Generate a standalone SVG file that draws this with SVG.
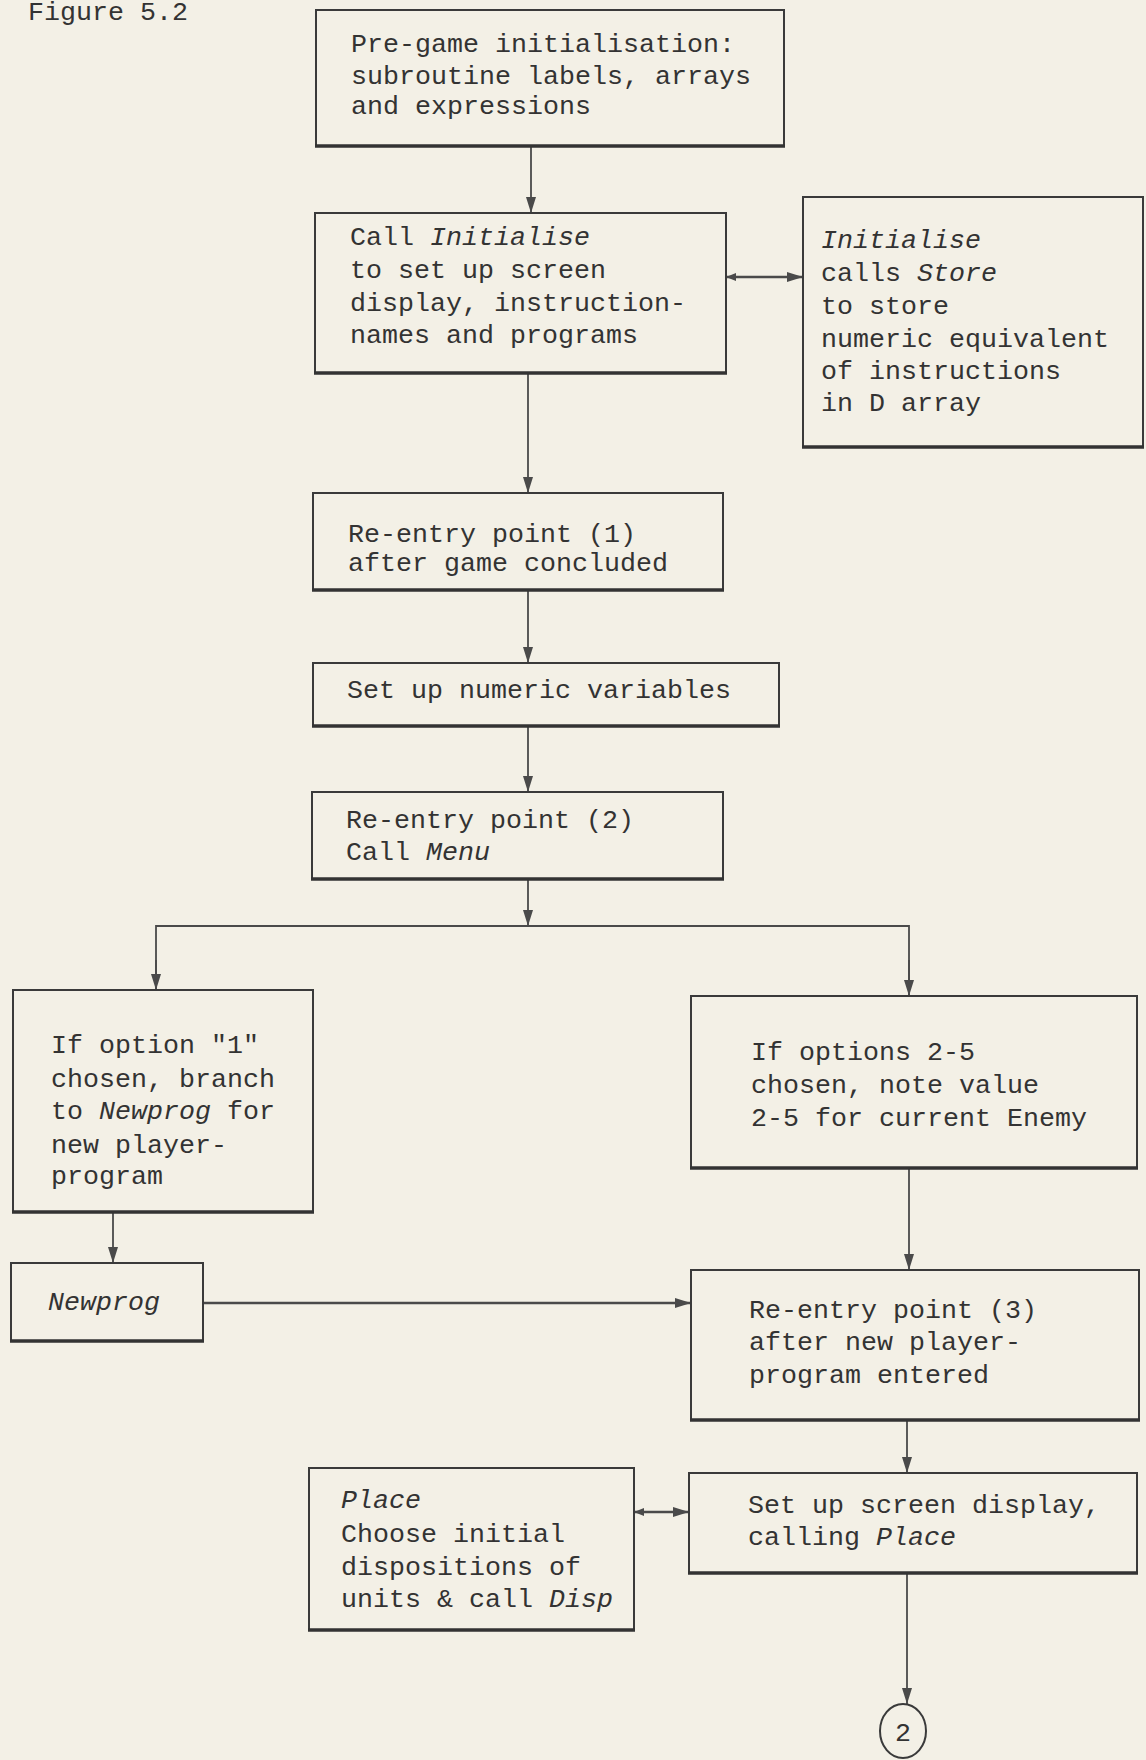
<svg xmlns="http://www.w3.org/2000/svg" width="1146" height="1760" viewBox="0 0 1146 1760">
<style>
.bg{fill:#f3f0e6}
.box{fill:none;stroke:#3a3a3a;stroke-width:2}
.bot{stroke:#333;stroke-width:3.5;fill:none}
.t{font-family:"Liberation Mono","DejaVu Sans Mono",monospace;font-size:26.67px;fill:#333}
.i{font-style:italic}
.c{stroke:#4a4a4a;stroke-width:1.8;fill:none}
</style>
<defs>
<marker id="ah" viewBox="0 0 16 10" refX="16" refY="5" markerWidth="16" markerHeight="10" markerUnits="userSpaceOnUse" orient="auto">
<path d="M0,0 L16,5 L0,10 Z" fill="#4a4a4a"/>
</marker>
<marker id="as" viewBox="0 0 10 8" refX="0" refY="4" markerWidth="10" markerHeight="8" markerUnits="userSpaceOnUse" orient="auto">
<path d="M10,0 L0,4 L10,8 Z" fill="#4a4a4a"/>
</marker>
</defs>
<rect class="bg" x="0" y="0" width="1146" height="1760"/>
<text class="t" x="28" y="20" fill="#555">Figure 5.2</text>

<g id="connectors">
<line class="c" x1="531" y1="146" x2="531" y2="213" marker-end="url(#ah)"/>
<line class="c" x1="726" y1="277" x2="803" y2="277" marker-start="url(#as)" marker-end="url(#ah)" style="stroke-width:2.5"/>
<line class="c" x1="528" y1="373" x2="528" y2="493" marker-end="url(#ah)"/>
<line class="c" x1="528" y1="590" x2="528" y2="663" marker-end="url(#ah)"/>
<line class="c" x1="528" y1="726" x2="528" y2="792" marker-end="url(#ah)"/>
<line class="c" x1="528" y1="879" x2="528" y2="926" marker-end="url(#ah)"/>
<polyline class="c" points="156,990 156,926 909,926 909,996"/>
<line class="c" x1="156" y1="960" x2="156" y2="990" marker-end="url(#ah)"/>
<line class="c" x1="909" y1="960" x2="909" y2="996" marker-end="url(#ah)"/>
<line class="c" x1="113" y1="1212" x2="113" y2="1263" marker-end="url(#ah)"/>
<line class="c" x1="909" y1="1168" x2="909" y2="1270" marker-end="url(#ah)"/>
<line class="c" x1="203" y1="1303" x2="691" y2="1303" marker-end="url(#ah)" style="stroke-width:2.3"/>
<line class="c" x1="907" y1="1420" x2="907" y2="1473" marker-end="url(#ah)"/>
<line class="c" x1="634" y1="1512" x2="689" y2="1512" marker-start="url(#as)" marker-end="url(#ah)" style="stroke-width:2.5"/>
<line class="c" x1="907" y1="1573" x2="907" y2="1704" marker-end="url(#ah)"/>
</g>

<g id="n1">
<rect class="box" x="316" y="10" width="468" height="136"/>
<line class="bot" x1="315" y1="146" x2="785" y2="146"/>
<text class="t" x="351" y="52">Pre-game initialisation:</text>
<text class="t" x="351" y="84">subroutine labels, arrays</text>
<text class="t" x="351" y="114">and expressions</text>
</g>

<g id="n2">
<rect class="box" x="315" y="213" width="411" height="160"/>
<line class="bot" x1="314" y1="373" x2="727" y2="373"/>
<text class="t" x="350" y="245">Call <tspan class="i">Initialise</tspan></text>
<text class="t" x="350" y="278">to set up screen</text>
<text class="t" x="350" y="311">display, instruction-</text>
<text class="t" x="350" y="343">names and programs</text>
</g>

<g id="n3">
<rect class="box" x="803" y="197" width="340" height="250"/>
<line class="bot" x1="802" y1="447" x2="1144" y2="447"/>
<text class="t i" x="821" y="248">Initialise</text>
<text class="t" x="821" y="281">calls <tspan class="i">Store</tspan></text>
<text class="t" x="821" y="314">to store</text>
<text class="t" x="821" y="347">numeric equivalent</text>
<text class="t" x="821" y="379">of instructions</text>
<text class="t" x="821" y="411">in D array</text>
</g>

<g id="n4">
<rect class="box" x="313" y="493" width="410" height="97"/>
<line class="bot" x1="312" y1="590" x2="724" y2="590"/>
<text class="t" x="348" y="542">Re-entry point (1)</text>
<text class="t" x="348" y="571">after game concluded</text>
</g>

<g id="n5">
<rect class="box" x="313" y="663" width="466" height="63"/>
<line class="bot" x1="312" y1="726" x2="780" y2="726"/>
<text class="t" x="347" y="698">Set up numeric variables</text>
</g>

<g id="n6">
<rect class="box" x="312" y="792" width="411" height="87"/>
<line class="bot" x1="311" y1="879" x2="724" y2="879"/>
<text class="t" x="346" y="828">Re-entry point (2)</text>
<text class="t" x="346" y="860">Call <tspan class="i">Menu</tspan></text>
</g>

<g id="n7">
<rect class="box" x="13" y="990" width="300" height="222"/>
<line class="bot" x1="12" y1="1212" x2="314" y2="1212"/>
<text class="t" x="51" y="1053">If option "1"</text>
<text class="t" x="51" y="1087">chosen, branch</text>
<text class="t" x="51" y="1119">to <tspan class="i">Newprog</tspan> for</text>
<text class="t" x="51" y="1153">new player-</text>
<text class="t" x="51" y="1184">program</text>
</g>

<g id="n8">
<rect class="box" x="691" y="996" width="446" height="172"/>
<line class="bot" x1="690" y1="1168" x2="1138" y2="1168"/>
<text class="t" x="751" y="1060">If options 2-5</text>
<text class="t" x="751" y="1093">chosen, note value</text>
<text class="t" x="751" y="1126">2-5 for current Enemy</text>
</g>

<g id="n9">
<rect class="box" x="11" y="1263" width="192" height="78"/>
<line class="bot" x1="10" y1="1341" x2="204" y2="1341"/>
<text class="t i" x="48" y="1310">Newprog</text>
</g>

<g id="n10">
<rect class="box" x="691" y="1270" width="448" height="150"/>
<line class="bot" x1="690" y1="1420" x2="1140" y2="1420"/>
<text class="t" x="749" y="1318">Re-entry point (3)</text>
<text class="t" x="749" y="1350">after new player-</text>
<text class="t" x="749" y="1383">program entered</text>
</g>

<g id="n11">
<rect class="box" x="689" y="1473" width="448" height="100"/>
<line class="bot" x1="688" y1="1573" x2="1138" y2="1573"/>
<text class="t" x="748" y="1513">Set up screen display,</text>
<text class="t" x="748" y="1545">calling <tspan class="i">Place</tspan></text>
</g>

<g id="n12">
<rect class="box" x="309" y="1468" width="325" height="162"/>
<line class="bot" x1="308" y1="1630" x2="635" y2="1630"/>
<text class="t i" x="341" y="1508">Place</text>
<text class="t" x="341" y="1542">Choose initial</text>
<text class="t" x="341" y="1575">dispositions of</text>
<text class="t" x="341" y="1607">units &amp; call <tspan class="i">Disp</tspan></text>
</g>

<g id="n13">
<ellipse cx="903" cy="1731" rx="23" ry="27" fill="none" stroke="#3a3a3a" stroke-width="2"/>
<text class="t" x="903" y="1741" text-anchor="middle">2</text>
</g>
</svg>
